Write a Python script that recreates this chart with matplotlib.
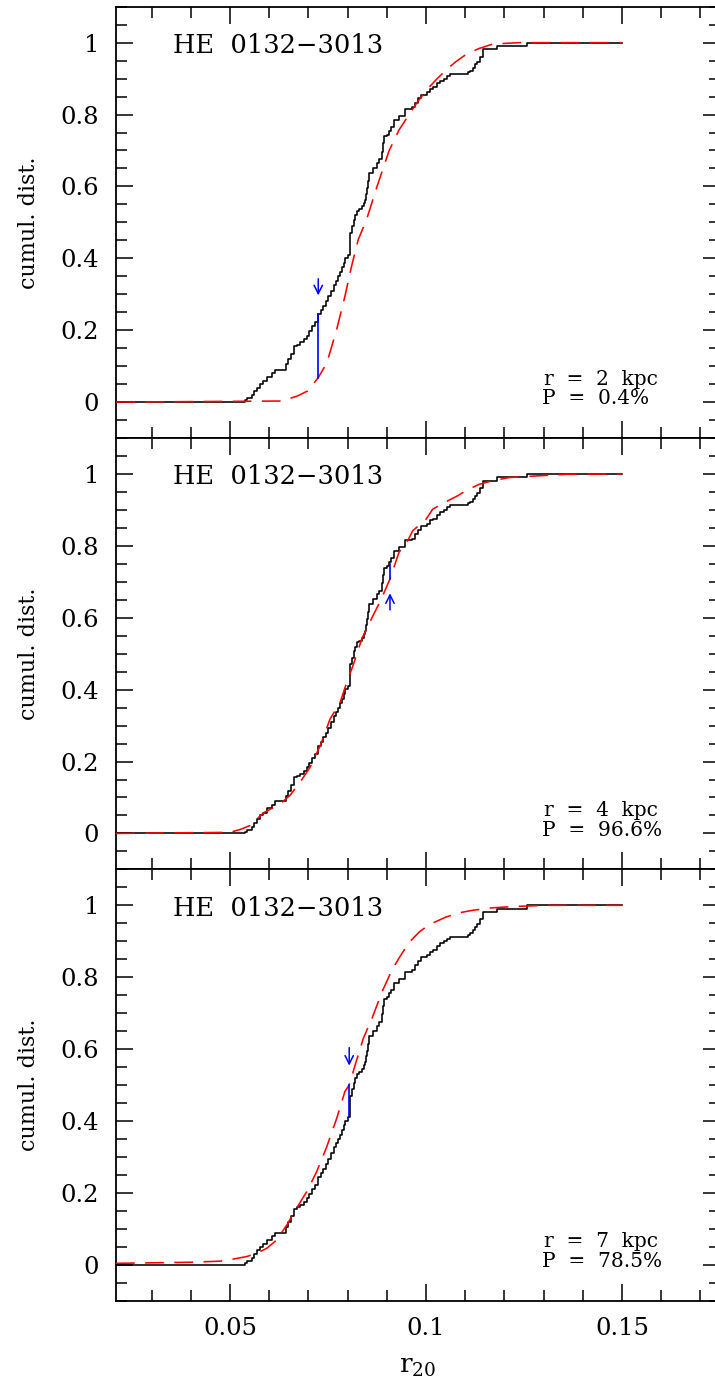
import numpy as np
import matplotlib
matplotlib.use("Agg")
import matplotlib.pyplot as plt
from matplotlib.ticker import MultipleLocator, FuncFormatter

plt.rcParams['font.family'] = ['DejaVu Serif']
plt.rcParams['mathtext.fontset'] = 'dejavuserif'
plt.rcParams['lines.scale_dashes'] = False

# Observed cumulative distribution of r20 (step positions and levels after each step)
obs_x = [0.0209, 0.0538, 0.0543, 0.0555, 0.0562, 0.0568, 0.0577, 0.0585, 0.0595,
         0.0606, 0.0615, 0.0642, 0.0649, 0.0655, 0.0662, 0.0670, 0.0679, 0.0688,
         0.0696, 0.0702, 0.0708, 0.0716, 0.0725, 0.0731, 0.0738, 0.0745, 0.0751,
         0.0757, 0.0764, 0.0770, 0.0776, 0.0781, 0.0785, 0.0790, 0.0793, 0.0802,
         0.0805, 0.0807, 0.0810, 0.0816, 0.0820, 0.0825, 0.0830, 0.0836, 0.0841,
         0.0844, 0.0847, 0.0849, 0.0852, 0.0855, 0.0864, 0.0874, 0.0880, 0.0887,
         0.0891, 0.0893, 0.0901, 0.0905, 0.0910, 0.0917, 0.0931, 0.0946, 0.0964,
         0.0972, 0.0980, 0.0987, 0.1002, 0.1010, 0.1019, 0.1027, 0.1036, 0.1045,
         0.1053, 0.1061, 0.1108, 0.1112, 0.1120, 0.1125, 0.1129, 0.1138, 0.1146,
         0.1180, 0.1257, 0.1500]
obs_y = [0.000, 0.005, 0.010, 0.019, 0.030, 0.040, 0.050, 0.058, 0.070,
         0.080, 0.089, 0.105, 0.119, 0.135, 0.156, 0.160, 0.166, 0.175,
         0.185, 0.197, 0.211, 0.222, 0.244, 0.255, 0.267, 0.280, 0.294,
         0.310, 0.327, 0.338, 0.350, 0.362, 0.375, 0.388, 0.401, 0.410,
         0.443, 0.470, 0.489, 0.507, 0.520, 0.532, 0.536, 0.545, 0.555,
         0.563, 0.580, 0.596, 0.615, 0.637, 0.651, 0.665, 0.675, 0.697,
         0.720, 0.739, 0.744, 0.755, 0.765, 0.785, 0.796, 0.815, 0.820,
         0.833, 0.845, 0.855, 0.862, 0.871, 0.876, 0.887, 0.894, 0.900,
         0.907, 0.913, 0.918, 0.922, 0.930, 0.940, 0.947, 0.961, 0.981,
         0.991, 1.000, 1.000]

# Model cumulative distributions for three radii
model_2kpc_x = [0.0209, 0.0633, 0.0672, 0.0698, 0.0725, 0.0747, 0.0772, 0.0793,
                0.0810, 0.0827, 0.0848, 0.0862, 0.0875, 0.0906, 0.0931, 0.0957,
                0.0978, 0.1003, 0.1025, 0.1051, 0.1076, 0.1106, 0.1136, 0.1170,
                0.1237, 0.1500]
model_2kpc_y = [0.000, 0.003, 0.017, 0.031, 0.068, 0.109, 0.202, 0.294,
                0.378, 0.452, 0.507, 0.555, 0.600, 0.700, 0.757, 0.800,
                0.835, 0.870, 0.896, 0.924, 0.947, 0.970, 0.984, 0.996,
                1.000, 1.000]

model_4kpc_x = [0.0209, 0.0500, 0.0526, 0.0551, 0.0585, 0.0628, 0.0653, 0.0679,
                0.0704, 0.0730, 0.0755, 0.0781, 0.0798, 0.0815, 0.0836, 0.0862,
                0.0885, 0.0908, 0.0931, 0.0953, 0.0966, 0.1000, 0.1017, 0.1046,
                0.1080, 0.1106, 0.1135, 0.1169, 0.1212, 0.1272, 0.1357, 0.1500]
model_4kpc_y = [0.000, 0.003, 0.011, 0.022, 0.057, 0.082, 0.106, 0.143,
                0.184, 0.244, 0.318, 0.365, 0.421, 0.471, 0.541, 0.600,
                0.650, 0.708, 0.782, 0.814, 0.842, 0.874, 0.902, 0.920,
                0.939, 0.956, 0.971, 0.981, 0.990, 0.994, 0.999, 1.000]

model_7kpc_x = [0.0209, 0.0400, 0.0475, 0.0495, 0.0543, 0.0568, 0.0594, 0.0619,
                0.0645, 0.0670, 0.0696, 0.0721, 0.0747, 0.0772, 0.0793, 0.0804,
                0.0819, 0.0840, 0.0862, 0.0888, 0.0913, 0.0935, 0.0957, 0.0982,
                0.1000, 0.1016, 0.1050, 0.1084, 0.1118, 0.1169, 0.1229, 0.1314,
                0.1500]
model_7kpc_y = [0.004, 0.007, 0.010, 0.013, 0.023, 0.032, 0.046, 0.069,
                0.111, 0.158, 0.204, 0.259, 0.329, 0.407, 0.482, 0.500,
                0.555, 0.630, 0.685, 0.760, 0.820, 0.860, 0.897, 0.925,
                0.940, 0.950, 0.967, 0.979, 0.986, 0.993, 0.997, 1.000,
                1.000]

# KS statistic: location of maximum separation and arrow marking it
radii = ["2", "4", "7"]
probs = ["0.4%", "96.6%", "78.5%"]
ks_x = [0.0725, 0.0908, 0.0804]
ks_lo = [0.068, 0.708, 0.412]
ks_hi = [0.244, 0.749, 0.500]
arrow_from = [0.343, 0.622, 0.604]
arrow_to = [0.297, 0.668, 0.554]

models = [(model_2kpc_x, model_2kpc_y),
          (model_4kpc_x, model_4kpc_y),
          (model_7kpc_x, model_7kpc_y)]

W, H = 715, 1380
fig = plt.figure(figsize=(W / 100, H / 100), dpi=100)

left_px, right_px = 116, 720
top_px, bottom_px = 6.7, 1300.7
panel_h = (bottom_px - top_px) / 3

for i in range(3):
    ptop = top_px + i * panel_h
    ax = fig.add_axes([left_px / W, 1 - (ptop + panel_h) / H,
                       (right_px - left_px) / W, panel_h / H])
    ax.set_xlim(0.0209, 0.175)
    ax.set_ylim(-0.1, 1.1)

    ax.plot(obs_x, obs_y, drawstyle='steps-post', color='black', lw=1.15, zorder=3)
    mx, my = models[i]
    ax.plot(mx, my, color='red', lw=1.15, dashes=(13.5, 7.5), zorder=4)
    ax.plot([ks_x[i], ks_x[i]], [ks_lo[i], ks_hi[i]], color='blue', lw=1.2, zorder=5)
    ax.annotate('', xy=(ks_x[i], arrow_to[i]), xytext=(ks_x[i], arrow_from[i]),
                arrowprops=dict(arrowstyle='->', color='blue', lw=1.1,
                                mutation_scale=15, shrinkA=0, shrinkB=0),
                zorder=5)

    ax.text(0.094, 0.893, 'HE  0132\u22123013', transform=ax.transAxes,
            fontsize=18.5, ha='left', va='baseline')
    ax.text(0.708, 0.124, 'r  =  ' + radii[i] + '  kpc', transform=ax.transAxes,
            fontsize=14.5, ha='left', va='baseline')
    ax.text(0.705, 0.078, 'P  =  ' + probs[i], transform=ax.transAxes,
            fontsize=14.5, ha='left', va='baseline')

    ax.xaxis.set_major_locator(MultipleLocator(0.05))
    ax.xaxis.set_minor_locator(MultipleLocator(0.01))
    ax.yaxis.set_major_locator(MultipleLocator(0.2))
    ax.yaxis.set_minor_locator(MultipleLocator(0.05))
    ax.tick_params(which='both', direction='in', top=True, right=True,
                   width=1.1, labelsize=17.5, pad=12)
    ax.tick_params(which='major', length=12.2)
    ax.tick_params(which='minor', length=7.7)
    ax.yaxis.set_major_formatter(FuncFormatter(lambda v, p: '%g' % round(v, 3)))
    ax.xaxis.set_major_formatter(FuncFormatter(lambda v, p: '%g' % round(v, 3)))
    for s in ax.spines.values():
        s.set_linewidth(1.3)
    ax.set_ylabel('cumul. dist.', fontsize=16, labelpad=15)
    if i < 2:
        ax.tick_params(labelbottom=False)
    else:
        ax.set_xlabel(r'r$_{20}$', fontsize=19, labelpad=10)

fig.savefig('out.png', dpi=100)
